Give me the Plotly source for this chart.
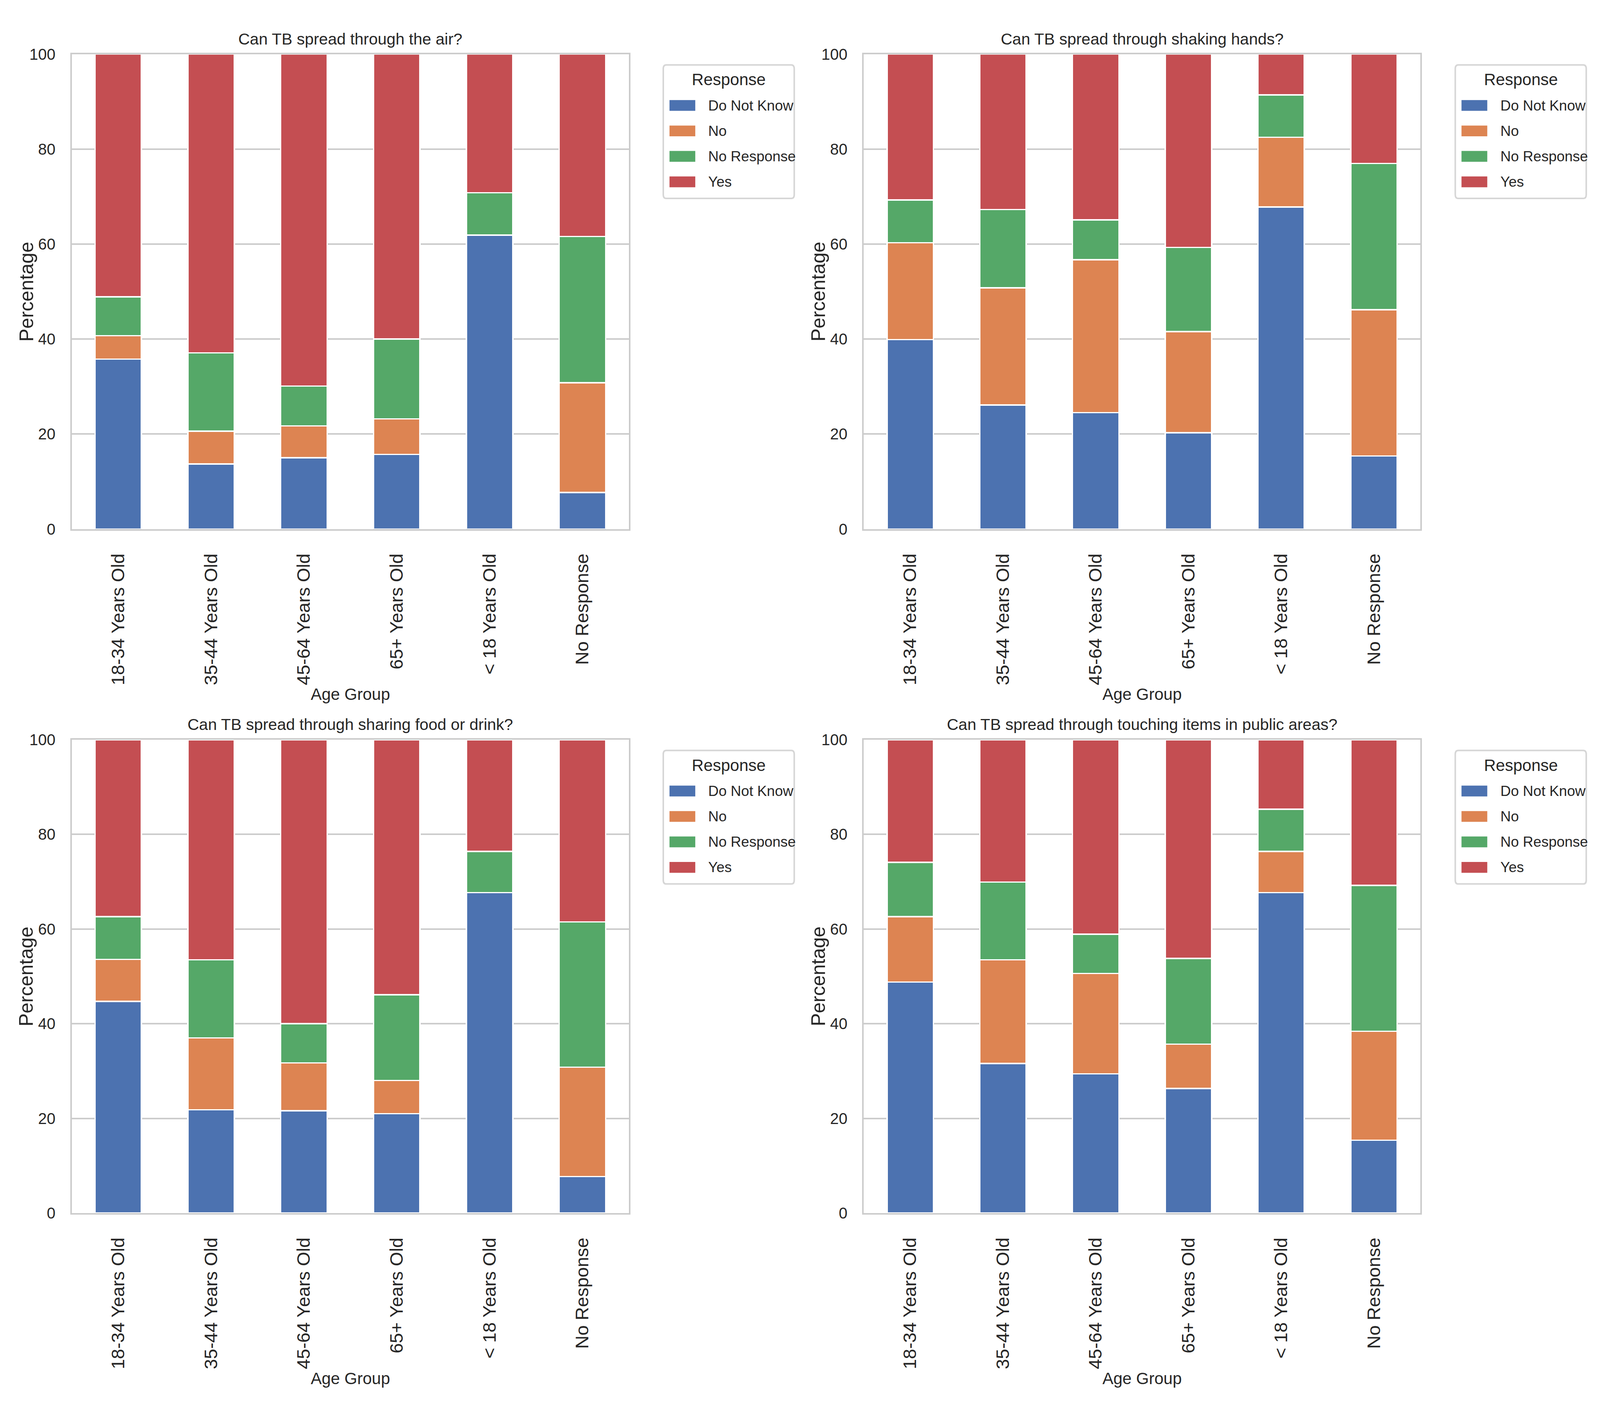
import plotly.graph_objects as go

### data (percent of each age group)
age_groups = ["18-34 Years Old", "35-44 Years Old", "45-64 Years Old",
              "65+ Years Old", "< 18 Years Old", "No Response"]
responses = ["Do Not Know", "No", "No Response", "Yes"]

air_dnk = [35.8, 13.7, 15.0, 15.7, 61.9, 7.7]
air_no = [4.9, 6.9, 6.7, 7.5, 0.0, 23.1]
air_nr = [8.2, 16.5, 8.4, 16.8, 8.9, 30.8]
air_yes = [51.1, 62.9, 69.9, 60.0, 29.2, 38.4]

hands_dnk = [39.9, 26.1, 24.5, 20.3, 67.8, 15.4]
hands_no = [20.4, 24.7, 32.2, 21.3, 14.7, 30.8]
hands_nr = [9.0, 16.5, 8.4, 17.7, 8.9, 30.8]
hands_yes = [30.7, 32.7, 34.9, 40.7, 8.6, 23.0]

food_dnk = [44.7, 21.8, 21.6, 21.0, 67.7, 7.7]
food_no = [8.9, 15.2, 10.1, 7.0, 0.0, 23.1]
food_nr = [9.0, 16.5, 8.3, 18.1, 8.7, 30.7]
food_yes = [37.4, 46.5, 60.0, 53.9, 23.6, 38.5]

touch_dnk = [48.8, 31.6, 29.4, 26.3, 67.7, 15.4]
touch_no = [13.8, 21.9, 21.2, 9.4, 8.7, 23.0]
touch_nr = [11.5, 16.4, 8.3, 18.1, 8.9, 30.8]
touch_yes = [25.9, 30.1, 41.1, 46.2, 14.7, 30.8]

titles = ["Can TB spread through the air?",
          "Can TB spread through shaking hands?",
          "Can TB spread through sharing food or drink?",
          "Can TB spread through touching items in public areas?"]

panels = [
    [air_dnk, air_no, air_nr, air_yes],
    [hands_dnk, hands_no, hands_nr, hands_yes],
    [food_dnk, food_no, food_nr, food_yes],
    [touch_dnk, touch_no, touch_nr, touch_yes],
]

colors = ["#4C72B0", "#DD8452", "#55A868", "#C44E52"]
text_color = "#262626"
grid_color = "#cccccc"
font_name = "Liberation Sans"

# browser viewport is 4096x3600, layout measured on the 5400x3600 reference
W, H = 4096, 3600
RW, RH = 5400, 3600


def fx(px):
    return px / RW


def fy(py):
    return 1 - py / RH


# plot areas in reference pixels (left, right, top, bottom)
boxes = [
    (232, 2112, 110, 1341),
    (2905, 4783, 110, 1341),
    (232, 2112, 1887, 3114),
    (2905, 4783, 1887, 3114),
]
# offset of each panel relative to the first one
offsets = [(0, 0), (2673, 0), (0, 1777), (2673, 1777)]

fig = go.Figure()
layout = dict(
    width=W, height=H,
    margin=dict(l=0, r=0, t=0, b=0),
    paper_bgcolor="white",
    plot_bgcolor="white",
    barmode="stack",
    bargap=0.5,
    showlegend=False,
    font=dict(family=font_name, size=40, color=text_color),
    annotations=[],
    shapes=[],
)

for i, (vals, title) in enumerate(zip(panels, titles)):
    n = "" if i == 0 else str(i + 1)
    for resp, v, c in zip(responses, vals, colors):
        fig.add_trace(go.Bar(
            x=age_groups, y=v, name=resp,
            marker=dict(color=c, line=dict(color="white", width=3.5)),
            xaxis="x" + n, yaxis="y" + n,
        ))

    l, r, t, b = boxes[i]
    xd = [fx(l), fx(r)]
    yd = [fy(b), fy(t)]
    layout["xaxis" + n] = dict(
        domain=xd, anchor="y" + n,
        range=[-0.5, 5.5], tickangle=-90,
        showgrid=False, showline=True, mirror=True,
        linecolor=grid_color, linewidth=4,
        ticks="", ticklabelstandoff=40,
        tickfont=dict(size=47, color=text_color),
        title=dict(text="Age Group", font=dict(size=42), standoff=8),
    )
    layout["yaxis" + n] = dict(
        domain=yd, anchor="x" + n,
        range=[0, 100], tickvals=[0, 20, 40, 60, 80, 100],
        showgrid=True, gridcolor=grid_color, gridwidth=4,
        zeroline=False, showline=True, mirror=True,
        linecolor=grid_color, linewidth=4,
        ticks="", ticklabelstandoff=30,
        tickfont=dict(size=40, color=text_color),
    )
    # subplot title and y title
    layout["annotations"].append(dict(
        text=title, xref="paper", yref="paper",
        x=(xd[0] + xd[1]) / 2, y=yd[1],
        xanchor="center", yanchor="bottom", yshift=14,
        showarrow=False, font=dict(size=41, color=text_color),
    ))
    layout["annotations"].append(dict(
        text="Percentage", xref="paper", yref="paper", textangle=-90,
        x=fx(78 + offsets[i][0]), y=(yd[0] + yd[1]) / 2,
        xanchor="center", yanchor="middle",
        showarrow=False, font=dict(size=50, color=text_color),
    ))

    # legend box drawn by hand so the patches look like the reference
    ox, oy = offsets[i]
    x0, x1 = fx(2228 + ox), fx(2670 + ox)
    y0, y1 = fy(484 + oy), fy(138 + oy)
    rx, ry = 10 / RW, 10 / RH
    path = (f"M {x0 + rx},{y1} L {x1 - rx},{y1} Q {x1},{y1} {x1},{y1 - ry} "
            f"L {x1},{y0 + ry} Q {x1},{y0} {x1 - rx},{y0} "
            f"L {x0 + rx},{y0} Q {x0},{y0} {x0},{y0 + ry} "
            f"L {x0},{y1 - ry} Q {x0},{y1} {x0 + rx},{y1} Z")
    layout["shapes"].append(dict(
        type="path", path=path, xref="paper", yref="paper",
        fillcolor="white", line=dict(color="#d6d6d6", width=4), layer="above",
    ))
    layout["annotations"].append(dict(
        text="Response", xref="paper", yref="paper",
        x=(x0 + x1) / 2, y=fy(176 + oy), xanchor="center", yanchor="middle",
        showarrow=False, font=dict(size=42, color=text_color),
    ))
    for k, (resp, c) in enumerate(zip(responses, colors)):
        cy = 243 + 66 * k + oy
        layout["shapes"].append(dict(
            type="rect", xref="paper", yref="paper",
            x0=fx(2249 + ox), x1=fx(2336 + ox), y0=fy(cy + 14), y1=fy(cy - 14),
            fillcolor=c, line=dict(width=0), layer="above",
        ))
        layout["annotations"].append(dict(
            text=resp, xref="paper", yref="paper",
            x=fx(2377 + ox), y=fy(cy), xanchor="left", yanchor="middle",
            showarrow=False, font=dict(size=37, color=text_color),
        ))

fig.update_layout(**layout)
fig.write_html("out.html")
